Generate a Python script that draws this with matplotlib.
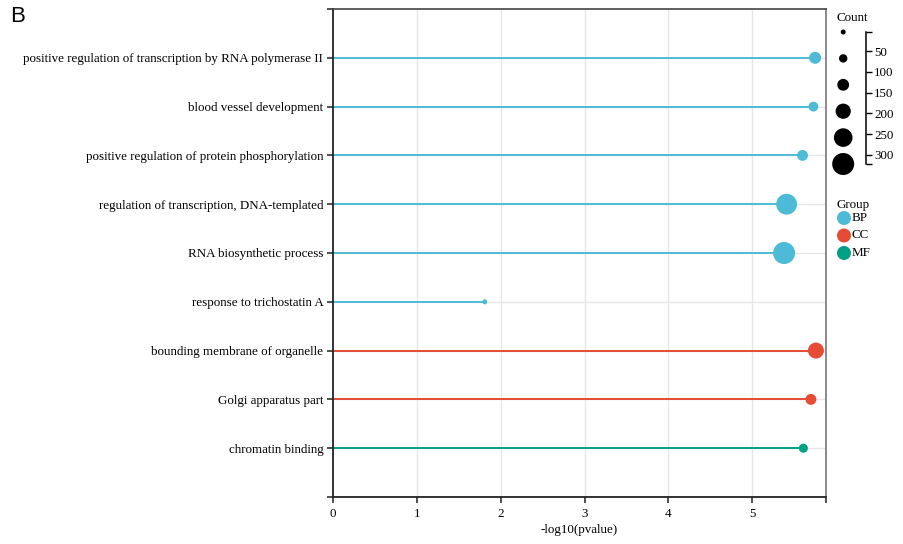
import matplotlib
matplotlib.use("Agg")
import matplotlib.pyplot as plt
import numpy as np

# GO enrichment lollipop data (top -> bottom)
terms = [
    "positive regulation of transcription by RNA polymerase II",
    "blood vessel development",
    "positive regulation of protein phosphorylation",
    "regulation of transcription, DNA-templated",
    "RNA biosynthetic process",
    "response to trichostatin A",
    "bounding membrane of organelle",
    "Golgi apparatus part",
    "chromatin binding",
]
neglog_p = [5.75, 5.73, 5.60, 5.41, 5.38, 1.81, 5.76, 5.70, 5.61]
counts = [135, 95, 115, 300, 322, 4, 210, 115, 80]
groups = ["BP", "BP", "BP", "BP", "BP", "BP", "CC", "CC", "MF"]

group_names = ["BP", "CC", "MF"]
group_colors = {"BP": "#4DBBD5", "CC": "#E64B35", "MF": "#00A087"}
count_ticks = [50, 100, 150, 200, 250, 300]

DPI = 100
W, H = 904, 544
R_MIN, R_MAX = 2.5, 11.0
FS = 9.4

plt.rcParams["font.family"] = ["Liberation Serif", "DejaVu Serif"]

cmin, cmax = min(counts), max(counts)


def size_of(c):
    r = R_MIN + (np.asarray(c, float) - cmin) / (cmax - cmin) * (R_MAX - R_MIN)
    return (2 * r * 72 / DPI) ** 2


fig = plt.figure(figsize=(W / DPI, H / DPI), dpi=DPI)
ax = fig.add_axes([333 / W, 1 - 497 / H, (826 - 333) / W, (497 - 9) / H])

ypos = np.arange(1, len(terms) + 1)
xmax = 5.88
ax.set_xlim(0, xmax)
ax.set_ylim(len(terms) + 1, 0)

for xv in range(1, 6):
    ax.axvline(xv, color="#e6e6e6", lw=1.0, zorder=0)
for y in ypos:
    ax.axhline(y, color="#e6e6e6", lw=1.0, zorder=0)

cols = [group_colors[g] for g in groups]
ax.hlines(ypos, 0, neglog_p, colors=cols, lw=1.4, zorder=2)
ax.scatter(neglog_p, ypos, s=size_of(counts), c=cols, zorder=3,
           linewidths=0, clip_on=False)

ax.set_yticks(ypos)
ax.set_yticklabels(terms, fontsize=FS)
ax.set_yticks([0, len(terms) + 1], minor=True)
ax.set_xticks(range(0, 6))
ax.set_xticks([xmax], minor=True)
ax.tick_params(which="both", length=4.5, width=1.1, color="#222222",
               labelsize=FS, pad=2.5)
ax.tick_params(axis="x", pad=3.5)
ax.set_xlabel("-log10(pvalue)", fontsize=FS, labelpad=3)

for side in ("left", "bottom"):
    ax.spines[side].set_linewidth(1.3)
    ax.spines[side].set_color("#222222")
ax.spines["top"].set_color("#444444")
ax.spines["right"].set_color("#777777")
ax.spines["top"].set_linewidth(1.2)
ax.spines["right"].set_linewidth(1.2)

fig.text(10 / W, 1 - 17 / H, "B", fontsize=16, family="Liberation Sans",
         va="center", ha="left")

# Count legend: circles along a vertical scale
lax = fig.add_axes([826 / W, 1 - 164 / H, (866 - 826) / W, (164 - 32) / H])
lax.set_ylim(cmax, cmin)
lax.set_xlim(0, 1)
leg_vals = np.linspace(cmin, cmax, 6)
lax.scatter(np.full(6, 0.43), leg_vals, s=size_of(leg_vals), c="black",
            linewidths=0, clip_on=False)
for side in ("left", "top", "bottom"):
    lax.spines[side].set_visible(False)
lax.spines["right"].set_linewidth(1.1)
lax.patch.set_alpha(0)
lax.set_xticks([])
lax.yaxis.tick_right()
lax.set_yticks(count_ticks)
lax.set_yticks([cmin, cmax], minor=True)
lax.tick_params(which="both", length=4, width=1.0, labelsize=FS, pad=2)
fig.text(837 / W, 1 - 18 / H, "Count", fontsize=FS, va="center", ha="left")

# Group legend
gax = fig.add_axes([0, 0, 1, 1])
gax.set_xlim(0, W)
gax.set_ylim(H, 0)
gax.axis("off")
gax.patch.set_alpha(0)
fig.text(837 / W, 1 - 205 / H, "Group", fontsize=FS, va="center", ha="left")
gy = 218 + 17.5 * np.arange(len(group_names))
gax.scatter(np.full(len(group_names), 844), gy, s=(2 * 7 * 72 / DPI) ** 2,
            c=[group_colors[g] for g in group_names], linewidths=0)
for g, y in zip(group_names, gy):
    gax.text(852, y, g, fontsize=FS, va="center", ha="left")

fig.savefig("out.png", dpi=DPI)
